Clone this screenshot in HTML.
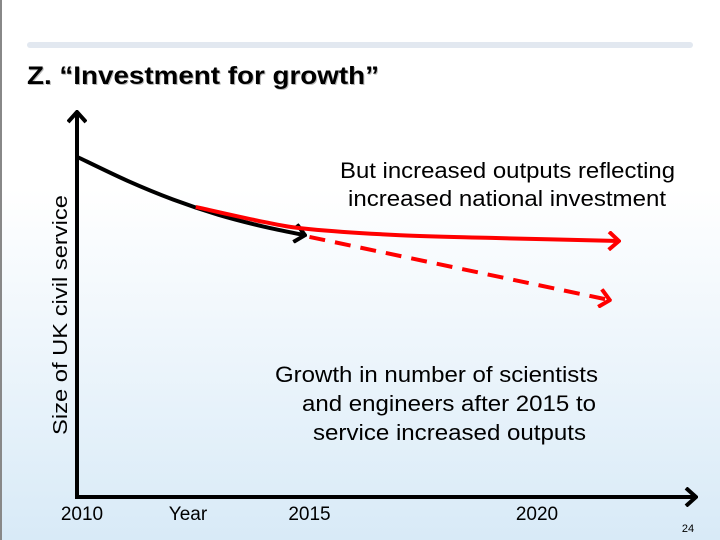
<!DOCTYPE html>
<html><head><meta charset="utf-8"><style>
html,body{margin:0;padding:0}
body{width:720px;height:540px;overflow:hidden;background:linear-gradient(#ffffff 0%,#ffffff 35%,#d8eaf7 100%);font-family:"Liberation Sans",sans-serif;position:relative}
</style></head><body>
<svg width="720" height="540" style="position:absolute;left:0;top:0">
<defs>
<marker id="ar" markerWidth="14" markerHeight="20" refX="12" refY="10" orient="auto" markerUnits="userSpaceOnUse"><path d="M2,1 L12,10 L2,19" fill="none" stroke="#f00" stroke-width="4"/></marker>
<marker id="ak" markerWidth="14" markerHeight="20" refX="12" refY="10" orient="auto" markerUnits="userSpaceOnUse"><path d="M2,1 L12,10 L2,19" fill="none" stroke="#000" stroke-width="4"/></marker>
</defs>
<line x1="1" y1="0" x2="1" y2="540" stroke="#888" stroke-width="2"/>
<line x1="30" y1="45" x2="690" y2="45" stroke="#e2e8f0" stroke-width="6" stroke-linecap="round"/>
<text x="28" y="85" font-size="25" font-weight="bold" fill="#555" opacity="0.4" textLength="352" lengthAdjust="spacingAndGlyphs">Z. “Investment for growth”</text>
<text x="27" y="84" font-size="25" font-weight="bold" fill="#000" textLength="352" lengthAdjust="spacingAndGlyphs">Z. “Investment for growth”</text>
<g id="plot"></g>
<line x1="77" y1="497" x2="77" y2="112" stroke="#000" stroke-width="4" marker-end="url(#ak)"/>
<line x1="75" y1="497" x2="696" y2="497" stroke="#000" stroke-width="4" marker-end="url(#ak)"/>
<text transform="translate(67,435) rotate(-90)" font-size="20" textLength="240" lengthAdjust="spacingAndGlyphs">Size of UK civil service</text>
<text x="188" y="520" text-anchor="middle" font-size="19">Year</text>
<g id="ticks"></g>
<g font-size="22">
<text x="340" y="178" textLength="335" lengthAdjust="spacingAndGlyphs">But increased outputs reflecting</text>
<text x="348" y="206" textLength="318" lengthAdjust="spacingAndGlyphs">increased national investment</text>
</g>
<g font-size="22">
<text x="275" y="382" textLength="323" lengthAdjust="spacingAndGlyphs">Growth in number of scientists</text>
<text x="302" y="411" textLength="294" lengthAdjust="spacingAndGlyphs">and engineers after 2015 to</text>
<text x="313" y="440" textLength="273" lengthAdjust="spacingAndGlyphs">service increased outputs</text>
</g>
<text x="688" y="532" text-anchor="middle" font-size="11">24</text>
</svg>
<script>
const tickYears=[2010,2015,2020];
const blackYears=[2009.9,2011,2012,2013,2014,2014.9];
const blackVals=[100,93,87.5,83,79.5,77];
const redYears=[2012.5,2014,2015,2017,2019,2021.8];
const redVals=[85.3,80.9,78.8,77,76.2,75.3];
const dashYears=[2015,2021.6];
const dashVals=[76.5,57.9];
function xs(y){return 82+(y-2010)*45.5;}
function ys(v){return 497-v*3.4;}
const NS='http://www.w3.org/2000/svg';
function smooth(xa,va){
  const p=xa.map((x,i)=>[xs(x),ys(va[i])]);
  let d='M'+p[0][0]+','+p[0][1];
  for(let i=0;i<p.length-1;i++){
    const p0=p[i-1]||p[i],p1=p[i],p2=p[i+1],p3=p[i+2]||p2;
    const c1=[p1[0]+(p2[0]-p0[0])/6,p1[1]+(p2[1]-p0[1])/6];
    const c2=[p2[0]-(p3[0]-p1[0])/6,p2[1]-(p3[1]-p1[1])/6];
    d+=' C'+c1+' '+c2+' '+p2;
  }
  return d;
}
const g=document.getElementById('plot');
function mk(d,stroke,w,marker,dash){
  const e=document.createElementNS(NS,'path');
  e.setAttribute('d',d);e.setAttribute('fill','none');e.setAttribute('stroke',stroke);
  e.setAttribute('stroke-width',w);e.setAttribute('marker-end',marker);
  if(dash)e.setAttribute('stroke-dasharray',dash);
  g.appendChild(e);return e;
}
let e=mk(smooth(dashYears,dashVals),'#f00',4,'url(#ar)','16,10');


e=mk(smooth(blackYears,blackVals),'#000',4,'url(#ak)');


e=mk(smooth(redYears,redVals),'#f00',4,'url(#ar)');


const tg=document.getElementById('ticks');
tickYears.forEach(y=>{
  const t=document.createElementNS(NS,'text');
  t.setAttribute('x',xs(y));t.setAttribute('y',520);t.setAttribute('text-anchor','middle');t.setAttribute('font-size','19');
  t.textContent=y;
  
  
  tg.appendChild(t);
});
</script>
</body></html>
